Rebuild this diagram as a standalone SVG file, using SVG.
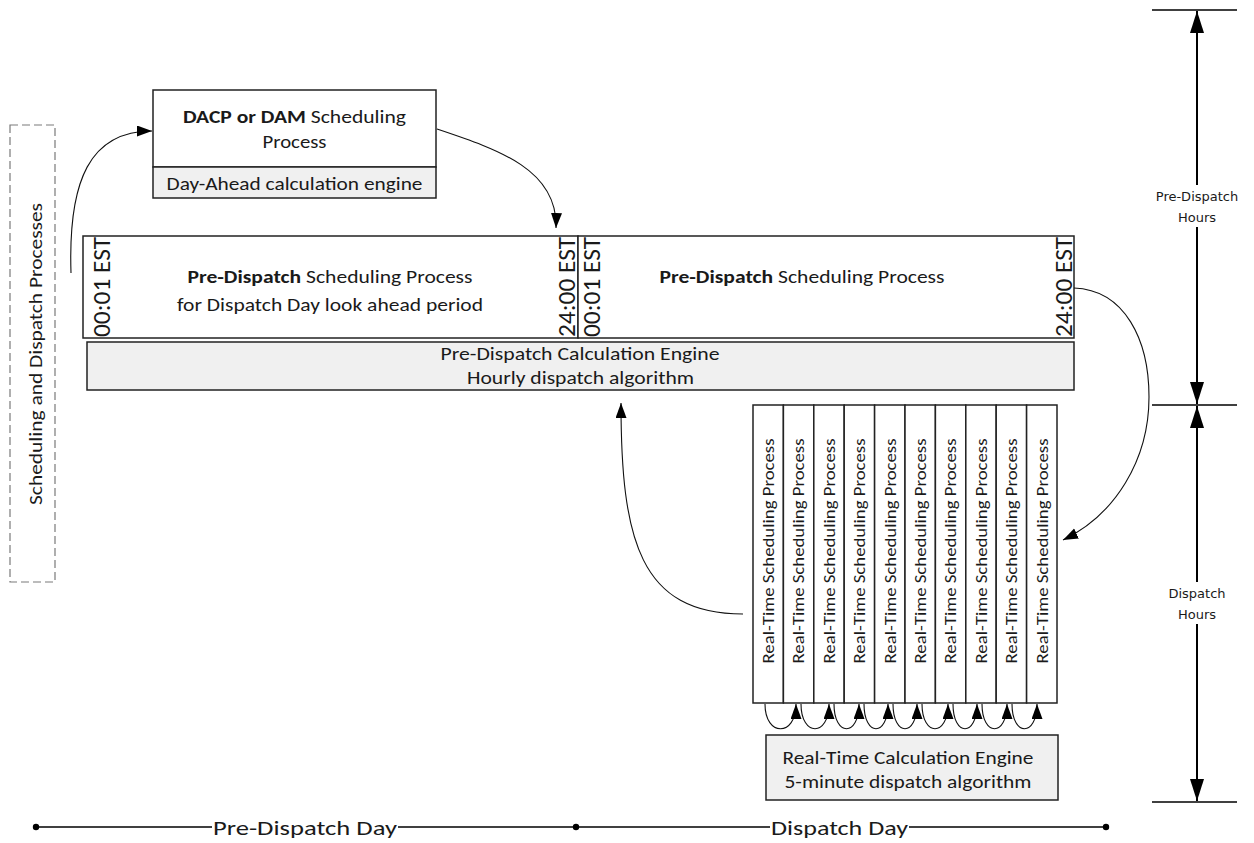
<svg xmlns="http://www.w3.org/2000/svg" width="1254" height="843" viewBox="0 0 1254 843">
<style>
text{font-family:Carlito,Lato,"Liberation Sans",sans-serif;fill:#1a1a1a}
.box{fill:#fff;stroke:#222;stroke-width:1.5}
.eng{fill:#f0f0f0;stroke:#222;stroke-width:1.5}
.t19{font-size:19px}
.t17{font-size:17px}
.est{font-size:24px}
.conn{fill:none;stroke:#111;stroke-width:1.1}
.axis{stroke:#000;stroke-width:2;fill:none}
.tick{stroke:#000;stroke-width:1.5}
.ax{font-family:"DejaVu Sans",Verdana,sans-serif;font-size:13px}
.tl{font-size:21px}
</style>
<defs>
<marker id="arr" markerUnits="userSpaceOnUse" markerWidth="16" markerHeight="12" refX="15" refY="5.5" orient="auto"><path d="M0,0 L15,5.5 L0,11 z" fill="#000"/></marker>
<marker id="axarr" markerUnits="userSpaceOnUse" markerWidth="24" markerHeight="16" refX="22" refY="7" orient="auto-start-reverse"><path d="M0,0 L22,7 L0,14 z" fill="#000"/></marker>
</defs>
<rect width="1254" height="843" fill="#fff"/>

<g id="proc-label">
<rect x="10" y="125" width="45" height="457" fill="none" stroke="#7a7a7a" stroke-width="1.2" stroke-dasharray="8 4"/>
<text class="t19" transform="translate(42,354) rotate(-90)" text-anchor="middle" textLength="302" lengthAdjust="spacingAndGlyphs">Scheduling and Dispatch Processes</text>
</g>

<g id="dacp">
<rect class="box" x="153" y="90" width="283" height="77"/>
<rect class="eng" x="153" y="167" width="283" height="31"/>
<text class="t19" x="294.5" y="123" text-anchor="middle" textLength="223" lengthAdjust="spacingAndGlyphs"><tspan font-weight="bold">DACP or DAM</tspan> Scheduling</text>
<text class="t19" x="294.5" y="148" text-anchor="middle" textLength="64" lengthAdjust="spacingAndGlyphs">Process</text>
<text class="t19" x="294.5" y="190" text-anchor="middle" textLength="256" lengthAdjust="spacingAndGlyphs">Day-Ahead calculation engine</text>
</g>

<g id="predispatch-day">
<rect class="box" x="83" y="236" width="495" height="102"/>
<text class="est" transform="translate(110,287) rotate(-90)" text-anchor="middle" textLength="100" lengthAdjust="spacingAndGlyphs">00:01 EST</text>
<text class="est" transform="translate(575,287) rotate(-90)" text-anchor="middle" textLength="100" lengthAdjust="spacingAndGlyphs">24:00 EST</text>
<text class="t19" x="330" y="283" text-anchor="middle" textLength="285" lengthAdjust="spacingAndGlyphs"><tspan font-weight="bold">Pre-Dispatch</tspan> Scheduling Process</text>
<text class="t19" x="330" y="311" text-anchor="middle" textLength="306" lengthAdjust="spacingAndGlyphs">for Dispatch Day look ahead period</text>
</g>

<g id="predispatch-dispatch">
<rect class="box" x="578" y="236" width="496" height="102"/>
<text class="est" transform="translate(600,287) rotate(-90)" text-anchor="middle" textLength="100" lengthAdjust="spacingAndGlyphs">00:01 EST</text>
<text class="est" transform="translate(1072,287) rotate(-90)" text-anchor="middle" textLength="100" lengthAdjust="spacingAndGlyphs">24:00 EST</text>
<text class="t19" x="802" y="283" text-anchor="middle" textLength="285" lengthAdjust="spacingAndGlyphs"><tspan font-weight="bold">Pre-Dispatch</tspan> Scheduling Process</text>
</g>

<g id="predispatch-engine">
<rect class="eng" x="87" y="342" width="987" height="48"/>
<text class="t19" x="580" y="360" text-anchor="middle" textLength="279" lengthAdjust="spacingAndGlyphs">Pre-Dispatch Calculation Engine</text>
<text class="t19" x="580.5" y="384" text-anchor="middle" textLength="227" lengthAdjust="spacingAndGlyphs">Hourly dispatch algorithm</text>
</g>

<g id="rt-1"><rect class="box" x="753" y="405" width="30.4" height="298"/><text class="t17" transform="translate(774,551) rotate(-90)" text-anchor="middle" textLength="225" lengthAdjust="spacingAndGlyphs">Real-Time Scheduling Process</text></g>
<g id="rt-2"><rect class="box" x="783.4" y="405" width="30.4" height="298"/><text class="t17" transform="translate(804.4,551) rotate(-90)" text-anchor="middle" textLength="225" lengthAdjust="spacingAndGlyphs">Real-Time Scheduling Process</text></g>
<g id="rt-3"><rect class="box" x="813.8" y="405" width="30.4" height="298"/><text class="t17" transform="translate(834.8,551) rotate(-90)" text-anchor="middle" textLength="225" lengthAdjust="spacingAndGlyphs">Real-Time Scheduling Process</text></g>
<g id="rt-4"><rect class="box" x="844.2" y="405" width="30.4" height="298"/><text class="t17" transform="translate(865.2,551) rotate(-90)" text-anchor="middle" textLength="225" lengthAdjust="spacingAndGlyphs">Real-Time Scheduling Process</text></g>
<g id="rt-5"><rect class="box" x="874.6" y="405" width="30.4" height="298"/><text class="t17" transform="translate(895.6,551) rotate(-90)" text-anchor="middle" textLength="225" lengthAdjust="spacingAndGlyphs">Real-Time Scheduling Process</text></g>
<g id="rt-6"><rect class="box" x="905" y="405" width="30.4" height="298"/><text class="t17" transform="translate(926,551) rotate(-90)" text-anchor="middle" textLength="225" lengthAdjust="spacingAndGlyphs">Real-Time Scheduling Process</text></g>
<g id="rt-7"><rect class="box" x="935.4" y="405" width="30.4" height="298"/><text class="t17" transform="translate(956.4,551) rotate(-90)" text-anchor="middle" textLength="225" lengthAdjust="spacingAndGlyphs">Real-Time Scheduling Process</text></g>
<g id="rt-8"><rect class="box" x="965.8" y="405" width="30.4" height="298"/><text class="t17" transform="translate(986.8,551) rotate(-90)" text-anchor="middle" textLength="225" lengthAdjust="spacingAndGlyphs">Real-Time Scheduling Process</text></g>
<g id="rt-9"><rect class="box" x="996.2" y="405" width="30.4" height="298"/><text class="t17" transform="translate(1017.2,551) rotate(-90)" text-anchor="middle" textLength="225" lengthAdjust="spacingAndGlyphs">Real-Time Scheduling Process</text></g>
<g id="rt-10"><rect class="box" x="1026.6" y="405" width="30.4" height="298"/><text class="t17" transform="translate(1047.6,551) rotate(-90)" text-anchor="middle" textLength="225" lengthAdjust="spacingAndGlyphs">Real-Time Scheduling Process</text></g>

<g id="rt-engine">
<rect class="eng" x="766" y="735" width="292" height="65"/>
<text class="t19" x="908" y="764" text-anchor="middle" textLength="251" lengthAdjust="spacingAndGlyphs">Real-Time Calculation Engine</text>
<text class="t19" x="908" y="788" text-anchor="middle" textLength="247" lengthAdjust="spacingAndGlyphs">5-minute dispatch algorithm</text>
</g>

<g id="connectors" class="conn">
<path d="M71,273 C68,180 90,131 152,131" marker-end="url(#arr)"/>
<path d="M437,129 C500,150 558,170 556,228" marker-end="url(#arr)"/>
<path d="M1074,288 C1125,290 1149,340 1149,397 C1149,460 1115,515 1063,540" marker-end="url(#arr)"/>
<path d="M743,614 C640,614 621,540 621,403" marker-end="url(#arr)"/>
<path d="M765,704 C765,737 796,737 796,704" marker-end="url(#arr)"/>
<path d="M801,704 C801,737 829,737 829,704" marker-end="url(#arr)"/>
<path d="M834,704 C834,737 859,737 859,704" marker-end="url(#arr)"/>
<path d="M864,704 C864,737 888,737 888,704" marker-end="url(#arr)"/>
<path d="M893,704 C893,737 917,737 917,704" marker-end="url(#arr)"/>
<path d="M922,704 C922,737 948,737 948,704" marker-end="url(#arr)"/>
<path d="M953,704 C953,737 977,737 977,704" marker-end="url(#arr)"/>
<path d="M982,704 C982,737 1007,737 1007,704" marker-end="url(#arr)"/>
<path d="M1012,704 C1012,737 1037,737 1037,704" marker-end="url(#arr)"/>
</g>

<g id="hours-axis">
<line class="tick" x1="1152" y1="10" x2="1237" y2="10"/>
<line class="tick" x1="1152" y1="405" x2="1237" y2="405"/>
<line class="tick" x1="1152" y1="802" x2="1237" y2="802"/>
<line class="axis" x1="1197" y1="11" x2="1197" y2="404" marker-start="url(#axarr)" marker-end="url(#axarr)"/>
<line class="axis" x1="1197" y1="406" x2="1197" y2="801" marker-start="url(#axarr)" marker-end="url(#axarr)"/>
<rect x="1150" y="185" width="94" height="42" fill="#fff"/>
<text class="ax" x="1197" y="201" text-anchor="middle">Pre-Dispatch</text>
<text class="ax" x="1197" y="222" text-anchor="middle">Hours</text>
<rect x="1160" y="582" width="74" height="42" fill="#fff"/>
<text class="ax" x="1197" y="598" text-anchor="middle">Dispatch</text>
<text class="ax" x="1197" y="619" text-anchor="middle">Hours</text>
</g>

<g id="day-timeline">
<line class="tick" x1="36" y1="827" x2="212" y2="827"/>
<line class="tick" x1="398" y1="827" x2="770" y2="827"/>
<line class="tick" x1="909" y1="827" x2="1106" y2="827"/>
<circle cx="36" cy="827" r="3.2" fill="#000"/>
<circle cx="576" cy="827" r="3.2" fill="#000"/>
<circle cx="1106" cy="827" r="3.2" fill="#000"/>
<text class="tl" x="213" y="835" textLength="184" lengthAdjust="spacingAndGlyphs">Pre-Dispatch Day</text>
<text class="tl" x="771" y="835" textLength="137" lengthAdjust="spacingAndGlyphs">Dispatch Day</text>
</g>
</svg>
